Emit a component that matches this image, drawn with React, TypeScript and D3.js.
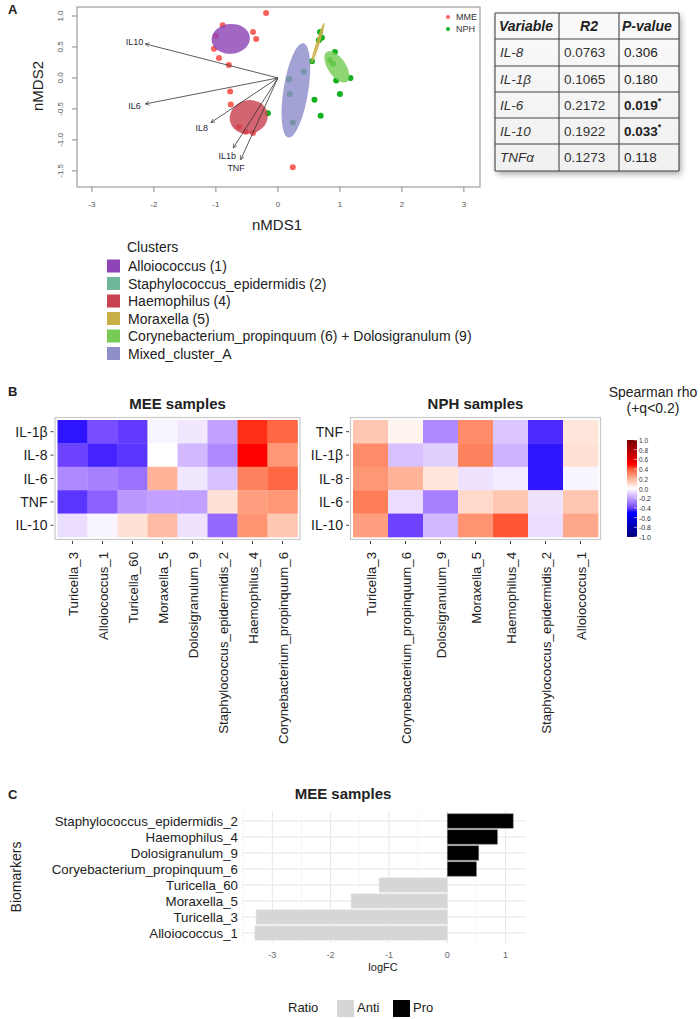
import React from 'react';
import * as d3 from 'd3';

// ---------- Panel A data ----------
const mmePoints: [number, number][] = [
  [-0.19, 1.05], [-0.89, 0.85], [-1.0, 0.68], [-0.4, 0.74], [-0.35, 0.63], [-1.03, 0.47],
  [-0.95, 0.32], [-0.79, 0.21], [-0.77, -0.22], [-0.76, -0.43], [-0.63, -0.79], [-0.52, -0.87],
  [-0.4, -0.89], [0.24, -1.44],
];
const nphPoints: [number, number][] = [
  [0.68, 0.74], [0.71, 0.65], [0.66, 0.61], [0.55, 0.27], [0.92, 0.42], [0.84, 0.29], [0.89, 0.23],
  [0.94, -0.04], [1.17, 0.0], [1.0, -0.26], [0.59, -0.35], [0.69, -0.61], [-0.16, -0.57],
  [0.18, -0.02], [0.19, -0.26], [0.42, 0.1], [0.24, -0.72],
];
const clusterNames = [
  'Alloiococcus (1)', 'Staphylococcus_epidermidis (2)', 'Haemophilus (4)', 'Moraxella (5)',
  'Corynebacterium_propinquum (6) + Dolosigranulum (9)', 'Mixed_cluster_A',
];
const clusterColors = ['#8e44b6', '#6fb79a', '#c8434f', '#c9b046', '#77cc55', '#8e8ecb'];
// ellipse: cluster index, centre, semi-axes (data units), rotation (deg)
const ellipseCluster = [0, 2, 5, 4, 3];
const ellipseCx = [-0.76, -0.47, 0.29, 0.95, 0.645];
const ellipseCy = [0.63, -0.63, -0.2, 0.18, 0.565];
const ellipseRx = [0.31, 0.31, 0.2, 0.145, 0.02];
const ellipseRy = [0.24, 0.27, 0.77, 0.29, 0.33];
const ellipseAngle = [-5, -15, 9, -34, 17.5];
const envNames = ['IL10', 'IL6', 'IL8', 'IL1b', 'TNF'];
const envX = [-2.14, -2.14, -1.08, -0.72, -0.6];
const envY = [0.55, -0.42, -0.72, -1.13, -1.32];
const xTicksA = [-3, -2, -1, 0, 1, 2, 3];
const yTicksA = [-1.5, -1.0, -0.5, 0.0, 0.5, 1.0];

// ---------- Table ----------
const tableHeader = ['Variable', 'R2', 'P-value'];
const tableVars = ['IL-8', 'IL-1β', 'IL-6', 'IL-10', 'TNFα'];
const tableR2 = ['0.0763', '0.1065', '0.2172', '0.1922', '0.1273'];
const tableP = ['0.306', '0.180', '0.019', '0.033', '0.118'];
const tableSig = [false, false, true, true, false];

// ---------- Panel B data ----------
const meeCols = ['Turicella_3', 'Alloiococcus_1', 'Turicella_60', 'Moraxella_5', 'Dolosigranulum_9',
  'Staphylococcus_epidermidis_2', 'Haemophilus_4', 'Corynebacterium_propinquum_6'];
const meeRows = ['IL-1β', 'IL-8', 'IL-6', 'TNF', 'IL-10'];
const meeValues = [
  [-0.48, -0.38, -0.42, -0.02, -0.05, -0.2, 0.47, 0.38],
  [-0.4, -0.46, -0.43, 0.0, -0.15, -0.25, 0.5, 0.27],
  [-0.25, -0.27, -0.3, 0.2, -0.05, -0.13, 0.32, 0.38],
  [-0.43, -0.34, -0.22, -0.2, -0.2, 0.08, 0.25, 0.27],
  [-0.07, -0.02, 0.08, 0.18, -0.06, -0.32, 0.28, 0.15],
];
const nphCols = ['Turicella_3', 'Corynebacterium_propinquum_6', 'Dolosigranulum_9', 'Moraxella_5',
  'Haemophilus_4', 'Staphylococcus_epidermidis_2', 'Alloiococcus_1'];
const nphRows = ['TNF', 'IL-1β', 'IL-8', 'IL-6', 'IL-10'];
const nphValues = [
  [0.15, 0.03, -0.25, 0.3, -0.12, -0.45, 0.07],
  [0.3, -0.13, -0.1, 0.32, -0.16, -0.48, 0.08],
  [0.27, 0.2, 0.07, -0.06, -0.04, -0.48, -0.02],
  [0.33, -0.07, -0.27, 0.1, 0.15, -0.06, 0.15],
  [0.25, -0.4, -0.15, 0.28, 0.41, -0.07, 0.23],
];
const cbTicks = [1.0, 0.8, 0.6, 0.4, 0.2, 0.0, -0.2, -0.4, -0.6, -0.8, -1.0];

// ---------- Panel C data ----------
const biomarkers = ['Staphylococcus_epidermidis_2', 'Haemophilus_4', 'Dolosigranulum_9',
  'Coryebacterium_propinquum_6', 'Turicella_60', 'Moraxella_5', 'Turicella_3', 'Alloiococcus_1'];
const logFC = [1.13, 0.86, 0.54, 0.5, -1.17, -1.65, -3.28, -3.3];
const ratio = ['Pro', 'Pro', 'Pro', 'Pro', 'Anti', 'Anti', 'Anti', 'Anti'];
const ratioLevels = ['Anti', 'Pro'];
const ratioColors = ['#d6d6d6', '#000000'];
const xTicksC = [-3, -2, -1, 0, 1];
const xMinorC = [-3.5, -2.5, -1.5, -0.5, 0.5];

const FONT = "'Liberation Sans', Arial, Helvetica, sans-serif";

const heatColor = d3.scaleLinear<string>()
  .domain([-1, -0.5, 0, 0.5, 1])
  .range(['#00007a', '#0000ff', '#ffffff', '#ff0000', '#7a0000'])
  .interpolate(d3.interpolateLab);

function PanelA() {
  const x = d3.scaleLinear().domain([-3.24, 3.26]).range([77, 480]);
  const y = d3.scaleLinear().domain([-1.76, 1.145]).range([187, 7]);
  const k = x(1) - x(0);
  const ox = x(0), oy = y(0);
  return (
    <g>
      <defs>
        <marker id="arr" viewBox="0 0 8 8" refX="7" refY="4" markerWidth="6" markerHeight="6" orient="auto">
          <path d="M0,0.5 L7,4 L0,7.5" fill="none" stroke="#333" strokeWidth="1" />
        </marker>
      </defs>
      <text x={8} y={14} fontSize={13} fontWeight="bold" fill="#222">A</text>
      <rect x={77} y={7} width={403} height={180} fill="none" stroke="#8a8a8a" strokeWidth={1} />
      {xTicksA.map(t => (
        <g key={'xt' + t}>
          <line x1={x(t)} x2={x(t)} y1={187} y2={192} stroke="#8a8a8a" />
          <text x={x(t)} y={207} fontSize={8} fill="#555" textAnchor="middle">{t}</text>
        </g>
      ))}
      {yTicksA.map(t => (
        <g key={'yt' + t}>
          <line x1={72} x2={77} y1={y(t)} y2={y(t)} stroke="#8a8a8a" />
          <text transform={`translate(63,${y(t)}) rotate(-90)`} fontSize={8} fill="#555" textAnchor="middle">{t.toFixed(1)}</text>
        </g>
      ))}
      <text x={277} y={230} fontSize={15} fill="#222" textAnchor="middle">nMDS1</text>
      <text transform={`translate(43,86) rotate(-90)`} fontSize={15} fill="#222" textAnchor="middle">nMDS2</text>
      {mmePoints.map((p, i) => <circle key={'m' + i} cx={x(p[0])} cy={y(p[1])} r={3} fill="#f8625a" />)}
      {nphPoints.map((p, i) => <circle key={'n' + i} cx={x(p[0])} cy={y(p[1])} r={3} fill="#12b020" />)}
      {ellipseCluster.map((c, i) => (
        <ellipse key={'e' + i}
          transform={`translate(${x(ellipseCx[i])},${y(ellipseCy[i])}) rotate(${ellipseAngle[i]})`}
          rx={ellipseRx[i] * k} ry={ellipseRy[i] * k} fill={clusterColors[c]} fillOpacity={0.82}
          stroke={c === 3 ? clusterColors[c] : 'none'} strokeWidth={c === 3 ? 1 : 0} />
      ))}
      {envNames.map((n, i) => {
        const tx = x(envX[i]), ty = y(envY[i]);
        const dx = tx - ox, dy = ty - oy;
        const len = Math.sqrt(dx * dx + dy * dy);
        const lx = tx + (dx / len) * 11, ly = ty + (dy / len) * 9;
        return (
          <g key={n}>
            <line x1={ox} y1={oy} x2={tx} y2={ty} stroke="#333" strokeWidth={0.8} markerEnd="url(#arr)" />
            <text x={lx} y={ly + 3} fontSize={9} fill="#2a2a3a" textAnchor="middle">{n}</text>
          </g>
        );
      })}
      <circle cx={448} cy={17} r={2} fill="#f8625a" />
      <text x={456} y={20} fontSize={9} fill="#333">MME</text>
      <circle cx={448} cy={29} r={2} fill="#12b020" />
      <text x={456} y={32} fontSize={9} fill="#333">NPH</text>
    </g>
  );
}

function Table() {
  const colX = [495, 559, 619, 679];
  const rowY = [13, 39, 66, 92, 118, 144, 171];
  return (
    <g>
      <defs>
        <filter id="shadow" x="-10%" y="-10%" width="130%" height="130%">
          <feDropShadow dx="2" dy="3" stdDeviation="3" floodColor="#000" floodOpacity="0.35" />
        </filter>
        <linearGradient id="tbg" x1="0" x2="0" y1="0" y2="1">
          <stop offset="0" stopColor="#fafafa" />
          <stop offset="1" stopColor="#f0f0f0" />
        </linearGradient>
      </defs>
      <rect x={colX[0]} y={rowY[0]} width={colX[3] - colX[0]} height={rowY[6] - rowY[0]} fill="url(#tbg)" filter="url(#shadow)" />
      {rowY.map((yy, i) => <line key={'r' + i} x1={colX[0]} x2={colX[3]} y1={yy} y2={yy} stroke="#444" strokeWidth={1.1} />)}
      {colX.map((xx, i) => <line key={'c' + i} x1={xx} x2={xx} y1={rowY[0]} y2={rowY[6]} stroke="#444" strokeWidth={1.1} />)}
      {tableHeader.map((h, i) => (
        <text key={h} x={i === 0 ? colX[0] + 4 : (i === 1 ? (colX[1] + colX[2]) / 2 : colX[2] + 3)} y={rowY[0] + 18}
          fontSize={14} fontWeight="bold" fontStyle="italic" fill="#222" textAnchor={i === 1 ? 'middle' : 'start'}>{h}</text>
      ))}
      {tableVars.map((v, i) => {
        const base = rowY[i + 1] + 18;
        return (
          <g key={v}>
            <text x={colX[0] + 5} y={base} fontSize={13.5} fontStyle="italic" fill="#333">{v}</text>
            <text x={colX[1] + 5} y={base} fontSize={13.5} fill="#333">{tableR2[i]}</text>
            <text x={colX[2] + 5} y={base} fontSize={13.5} fill="#222" fontWeight={tableSig[i] ? 'bold' : 'normal'}>
              {tableP[i]}
              {tableSig[i] && <tspan dy={-6} fontSize={9}>*</tspan>}
            </text>
          </g>
        );
      })}
    </g>
  );
}

function ClusterLegend() {
  return (
    <g>
      <text x={127} y={252} fontSize={14} fill="#222">Clusters</text>
      {clusterNames.map((n, i) => {
        const cy = 266 + i * 17.5;
        return (
          <g key={n}>
            <rect x={107} y={cy - 6.5} width={13} height={13} fill={clusterColors[i]} />
            <text x={128} y={cy + 5} fontSize={14} fill="#222">{n}</text>
          </g>
        );
      })}
    </g>
  );
}

function Heatmap({ cols, rows, values, x0, x1, title }:
  { cols: string[]; rows: string[]; values: number[][]; x0: number; x1: number; title: string }) {
  const xs = d3.scaleBand().domain(cols).range([x0, x1]);
  const ys = d3.scaleBand().domain(rows).range([420, 537]);
  return (
    <g>
      <text x={(x0 + x1) / 2} y={409} fontSize={15} fontWeight="bold" fill="#222" textAnchor="middle">{title}</text>
      <rect x={x0 - 2.5} y={417.5} width={x1 - x0 + 5} height={122} fill="none" stroke="#c8c8c8" strokeWidth={1.2} />
      {rows.map((r, ri) => cols.map((c, ci) => (
        <rect key={r + c} x={xs(c)} y={ys(r)} width={xs.bandwidth() + 0.3} height={ys.bandwidth() + 0.3}
          fill={heatColor(values[ri][ci])} />
      )))}
      {rows.map(r => (
        <g key={'rl' + r}>
          <line x1={x0 - 7} x2={x0 - 4} y1={ys(r)! + ys.bandwidth() / 2} y2={ys(r)! + ys.bandwidth() / 2} stroke="#444" />
          <text x={x0 - 10} y={ys(r)! + ys.bandwidth() / 2 + 5} fontSize={14} fill="#222" textAnchor="end">{r}</text>
        </g>
      ))}
      {cols.map(c => {
        const cx = xs(c)! + xs.bandwidth() / 2;
        return (
          <g key={'cl' + c}>
            <line x1={cx} x2={cx} y1={541} y2={544} stroke="#444" />
            <text transform={`translate(${cx + 5},552) rotate(-90)`} fontSize={13.2} fill="#222" textAnchor="end">{c}</text>
          </g>
        );
      })}
    </g>
  );
}

function ColorBar() {
  const y = d3.scaleLinear().domain([1, -1]).range([440, 537]);
  const stops = d3.range(0, 21).map(i => 1 - i * 0.1);
  return (
    <g>
      <defs>
        <linearGradient id="cbg" x1="0" x2="0" y1="0" y2="1">
          {stops.map((s, i) => <stop key={i} offset={(i / 20).toFixed(3)} stopColor={heatColor(s)} />)}
        </linearGradient>
      </defs>
      <text x={653} y={397} fontSize={14} fill="#222" textAnchor="middle">Spearman rho</text>
      <text x={653} y={413} fontSize={14} fill="#222" textAnchor="middle">(+q&lt;0.2)</text>
      <rect x={627} y={y(1)} width={10} height={y(-1) - y(1)} fill="url(#cbg)" />
      {cbTicks.map(t => (
        <g key={'cb' + t}>
          <line x1={634} x2={637} y1={y(t)} y2={y(t)} stroke="#fff" strokeWidth={0.6} />
          <text x={639} y={y(t) + 3} fontSize={8} fill="#333" textLength={t < 0 ? 12 : 9} lengthAdjust="spacingAndGlyphs">{t.toFixed(1)}</text>
        </g>
      ))}
    </g>
  );
}

function PanelC() {
  const x = d3.scaleLinear().domain([-3.52, 1.35]).range([242, 526]);
  const y = d3.scaleBand().domain(biomarkers).range([813, 941]).paddingInner(0.1).paddingOuter(0.05);
  const color = d3.scaleOrdinal<string, string>().domain(ratioLevels).range(ratioColors);
  return (
    <g>
      <text x={8} y={799} fontSize={13} fontWeight="bold" fill="#222">C</text>
      <text x={343} y={799} fontSize={15} fontWeight="bold" fill="#222" textAnchor="middle">MEE samples</text>
      {xMinorC.map(t => <line key={'mn' + t} x1={x(t)} x2={x(t)} y1={811} y2={943} stroke="#f2f2f2" strokeWidth={0.6} />)}
      {xTicksC.map(t => <line key={'mj' + t} x1={x(t)} x2={x(t)} y1={811} y2={943} stroke="#e6e6e6" strokeWidth={1} />)}
      {biomarkers.map(b => <line key={'hg' + b} x1={242} x2={526} y1={y(b)! + y.bandwidth() / 2} y2={y(b)! + y.bandwidth() / 2} stroke="#e6e6e6" strokeWidth={1} />)}
      {biomarkers.map((b, i) => (
        <rect key={'bar' + b} x={Math.min(x(0), x(logFC[i]))} y={y(b)} width={Math.abs(x(logFC[i]) - x(0))}
          height={y.bandwidth()} fill={color(ratio[i])} stroke={ratio[i] === 'Pro' ? '#777' : '#e8e8e8'} strokeWidth={0.6} />
      ))}
      {biomarkers.map(b => (
        <text key={'yl' + b} x={238} y={y(b)! + y.bandwidth() / 2 + 4.5} fontSize={13.3} fill="#222" textAnchor="end">{b}</text>
      ))}
      {xTicksC.map(t => (
        <text key={'xl' + t} x={x(t)} y={958} fontSize={9} fill="#666" textAnchor="middle">{t}</text>
      ))}
      <text x={383} y={971} fontSize={11} fill="#222" textAnchor="middle">logFC</text>
      <text transform="translate(21,877) rotate(-90)" fontSize={14} fill="#222" textAnchor="middle">Biomarkers</text>
      <text x={288} y={1012} fontSize={13} fill="#222">Ratio</text>
      {ratioLevels.map((r, i) => (
        <g key={'lg' + r}>
          <rect x={337 + i * 56} y={1000} width={17} height={17} fill={ratioColors[i]} />
          <text x={357 + i * 56} y={1012} fontSize={13} fill="#222">{r}</text>
        </g>
      ))}
    </g>
  );
}

export default function App() {
  return (
    <svg width={700} height={1019} style={{ position: 'absolute', left: 0, top: 0, background: '#fff' }}
      fontFamily={FONT}>
      <rect x={0} y={0} width={700} height={1019} fill="#fff" />
      <PanelA />
      <Table />
      <ClusterLegend />
      <text x={8} y={396} fontSize={13} fontWeight="bold" fill="#222">B</text>
      <Heatmap cols={meeCols} rows={meeRows} values={meeValues} x0={57.5} x1={297.5} title="MEE samples" />
      <Heatmap cols={nphCols} rows={nphRows} values={nphValues} x0={353} x1={598} title="NPH samples" />
      <ColorBar />
      <PanelC />
    </svg>
  );
}
